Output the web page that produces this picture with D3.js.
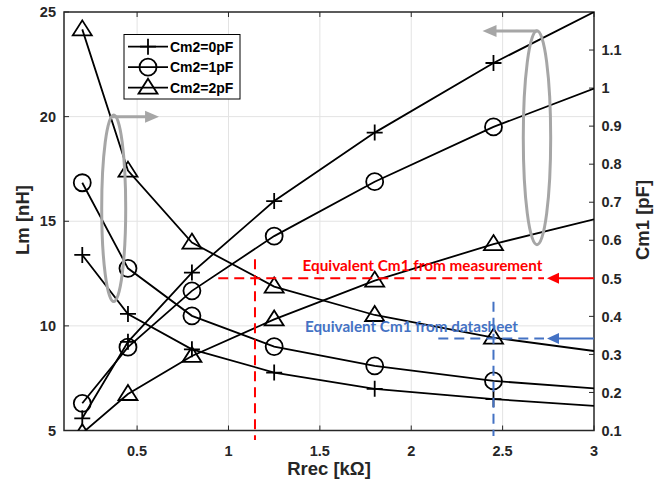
<!DOCTYPE html>
<html>
<head>
<meta charset="utf-8">
<script src="https://cdn.jsdelivr.net/npm/d3@7"></script>
<style>
html,body{margin:0;padding:0;background:#fff;}
svg{display:block;}
</style>
</head>
<body>
<svg id="chart" width="672" height="489"></svg>
<script>
// ---- data ----
const xMarkers = [0.2, 0.45, 0.8, 1.25, 1.8, 2.45];
const xLine = [0.2, 0.45, 0.8, 1.25, 1.8, 2.45, 3];
const seriesNames = ["Cm2=0pF", "Cm2=1pF", "Cm2=2pF"];
const markerTypes = ["plus", "circle", "triangle"];
// Lm [nH] (left axis)
const lmCm2_0 = [13.39, 10.57, 8.88, 7.77, 6.99, 6.50, 6.18];
const lmCm2_1 = [16.84, 12.75, 10.48, 9.01, 8.09, 7.37, 7.01];
const lmCm2_2 = [24.17, 17.42, 13.98, 11.88, 10.52, 9.44, 8.80];
// Cm1 [pF] (right axis)
const cmCm2_0 = [0.132, 0.333, 0.515, 0.703, 0.883, 1.066, 1.20];
const cmCm2_1 = [0.1715, 0.319, 0.467, 0.611, 0.754, 0.898, 0.999];
const cmCm2_2 = [0.093, 0.196, 0.296, 0.392, 0.494, 0.590, 0.655];
const xTicks = [0.5, 1, 1.5, 2, 2.5, 3];
const yLeftTicks = [5, 10, 15, 20, 25];
const yRightTicks = [0.1, 0.2, 0.3, 0.4, 0.5, 0.6, 0.7, 0.8, 0.9, 1, 1.1];
const xDomain = [0.1, 3];
const yLeftDomain = [5, 25];
const yRightDomain = [0.1, 1.2];
// annotations (data coordinates)
const measuredCm1 = 0.5, measuredRrec = 1.145;
const datasheetCm1 = 0.342, datasheetRrec = 2.45;
const labelMeasured = "Equivalent Cm1 from measurement";
const labelDatasheet = "Equivalent Cm1 from datasheet";

// ---- layout ----
const L = 64, R = 594, T = 12, B = 430.5;
const svg = d3.select("#chart");
const x = d3.scaleLinear().domain(xDomain).range([L, R]);
const yL = d3.scaleLinear().domain(yLeftDomain).range([B, T]);
const yR = d3.scaleLinear().domain(yRightDomain).range([B, T]);

svg.append("defs").append("clipPath").attr("id", "plotclip")
  .append("rect").attr("x", L).attr("y", T).attr("width", R - L).attr("height", B - T);

// grid
const grid = svg.append("g");
xTicks.filter(t => t < 3).forEach(t => {
  grid.append("line").attr("x1", x(t)).attr("x2", x(t)).attr("y1", T).attr("y2", B)
    .attr("stroke", "#e3e3e3").attr("stroke-width", 1);
});
yLeftTicks.filter(t => t > 5 && t < 25).forEach(t => {
  grid.append("line").attr("x1", L).attr("x2", R).attr("y1", yL(t)).attr("y2", yL(t))
    .attr("stroke", "#e3e3e3").attr("stroke-width", 1);
});

// axes
const tickFont = "'Liberation Sans', Arial, sans-serif";
const axColor = "#262626";
const tl = 5;
const ax = svg.append("g");
ax.append("rect").attr("x", L).attr("y", T).attr("width", R - L).attr("height", B - T)
  .attr("fill", "none").attr("stroke", axColor).attr("stroke-width", 1.5);
xTicks.forEach(t => {
  ax.append("line").attr("x1", x(t)).attr("x2", x(t)).attr("y1", B).attr("y2", B - tl).attr("stroke", axColor);
  ax.append("line").attr("x1", x(t)).attr("x2", x(t)).attr("y1", T).attr("y2", T + tl).attr("stroke", axColor);
  ax.append("text").attr("x", x(t)).attr("y", B + 25).attr("text-anchor", "middle")
    .attr("font-family", tickFont).attr("font-weight", "bold").attr("font-size", 14.5)
    .attr("fill", axColor).text(d3.format("")(t));
});
yLeftTicks.forEach(t => {
  ax.append("line").attr("x1", L).attr("x2", L + tl).attr("y1", yL(t)).attr("y2", yL(t)).attr("stroke", axColor);
  ax.append("text").attr("x", L - 8).attr("y", yL(t)).attr("dy", "0.36em").attr("text-anchor", "end")
    .attr("font-family", tickFont).attr("font-weight", "bold").attr("font-size", 14.5)
    .attr("fill", axColor).text(t);
});
yRightTicks.forEach(t => {
  ax.append("line").attr("x1", R).attr("x2", R - tl).attr("y1", yR(t)).attr("y2", yR(t)).attr("stroke", axColor);
  ax.append("text").attr("x", R + 7.5).attr("y", yR(t)).attr("dy", "0.36em").attr("text-anchor", "start")
    .attr("font-family", tickFont).attr("font-weight", "bold").attr("font-size", 14.5)
    .attr("fill", axColor).text(d3.format("")(t));
});
// axis labels
ax.append("text").attr("transform", `translate(${(L + R) / 2},475)`).attr("text-anchor", "middle")
  .attr("font-family", tickFont).attr("font-weight", "bold").attr("font-size", 18.5).attr("fill", axColor)
  .text("Rrec [kΩ]");
ax.append("text").attr("transform", `translate(29,220) rotate(-90)`).attr("text-anchor", "middle")
  .attr("font-family", tickFont).attr("font-weight", "bold").attr("font-size", 18.5).attr("fill", axColor)
  .text("Lm [nH]");
ax.append("text").attr("transform", `translate(649,220) rotate(-90)`).attr("text-anchor", "middle")
  .attr("font-family", tickFont).attr("font-weight", "bold").attr("font-size", 18.5).attr("fill", axColor)
  .text("Cm1 [pF]");

// markers
function drawMarker(g, type, cx, cy) {
  const s = { "stroke": "#000", "stroke-width": 1.8, "fill": "none" };
  let el;
  if (type === "plus") {
    el = g.append("path").attr("d", `M${cx - 8},${cy}H${cx + 8}M${cx},${cy - 8}V${cy + 8}`);
  } else if (type === "circle") {
    el = g.append("circle").attr("cx", cx).attr("cy", cy).attr("r", 8.5);
  } else {
    el = g.append("path").attr("d", `M${cx},${cy - 9}L${cx + 9.5},${cy + 6}L${cx - 9.5},${cy + 6}Z`);
  }
  Object.entries(s).forEach(([k, v]) => el.attr(k, v));
}

const plot = svg.append("g").attr("clip-path", "url(#plotclip)");
const leftSeries = [lmCm2_0, lmCm2_1, lmCm2_2];
const rightSeries = [cmCm2_0, cmCm2_1, cmCm2_2];
const lineL = d3.line().x((d, i) => x(xLine[i])).y(d => yL(d));
const lineR = d3.line().x((d, i) => x(xLine[i])).y(d => yR(d));
leftSeries.forEach((s, k) => {
  plot.append("path").attr("d", lineL(s)).attr("fill", "none").attr("stroke", "#000").attr("stroke-width", 1.8);
});
rightSeries.forEach((s, k) => {
  plot.append("path").attr("d", lineR(s)).attr("fill", "none").attr("stroke", "#000").attr("stroke-width", 1.8);
});
leftSeries.forEach((s, k) => {
  xMarkers.forEach((xv, i) => drawMarker(plot, markerTypes[k], x(xv), yL(s[i])));
});
rightSeries.forEach((s, k) => {
  xMarkers.forEach((xv, i) => drawMarker(plot, markerTypes[k], x(xv), yR(s[i])));
});

// annotations: dashed reference lines and arrows
const red = "#ff0000", blue = "#4472c4";
const ann = svg.append("g");
function refLines(color, rrec, cm1, vTopCm1, hLeftX, vBottomPx) {
  const yy = yR(cm1);
  ann.append("line").attr("x1", x(rrec)).attr("x2", x(rrec)).attr("y1", yR(vTopCm1)).attr("y2", vBottomPx)
    .attr("stroke", color).attr("stroke-width", 2).attr("stroke-dasharray", "10,6");
  ann.append("line").attr("x1", x(hLeftX)).attr("x2", R - 50).attr("y1", yy).attr("y2", yy)
    .attr("stroke", color).attr("stroke-width", 2).attr("stroke-dasharray", "10,6");
  ann.append("line").attr("x1", R - 38).attr("x2", R).attr("y1", yy).attr("y2", yy)
    .attr("stroke", color).attr("stroke-width", 2);
  ann.append("path").attr("d", `M${R - 47},${yy}L${R - 35},${yy - 5.5}L${R - 35},${yy + 5.5}Z`).attr("fill", color);
}
refLines(red, measuredRrec, measuredCm1, 0.55, 0.944, 440);
refLines(blue, datasheetRrec, datasheetCm1, 0.4385, 2.148, 436);

const annFont = "Lato, 'Open Sans', sans-serif";
ann.append("text").attr("x", 302.5).attr("y", 271).attr("fill", red)
  .attr("font-family", annFont).attr("font-weight", "bold").attr("font-size", 15.5)
  .attr("textLength", 240).attr("lengthAdjust", "spacingAndGlyphs").text(labelMeasured);
ann.append("text").attr("x", 305).attr("y", 332).attr("fill", blue)
  .attr("font-family", annFont).attr("font-weight", "bold").attr("font-size", 15.5)
  .attr("textLength", 213).attr("lengthAdjust", "spacingAndGlyphs").text(labelDatasheet);

// gray ellipses with arrows
const gray = "#a6a6a6";
const ellipses = [
  { cx: 0.372, cy: 15.62, rx: 0.0657, ry: 4.46, ax0: 0.36, ay: 20, ax1: 0.62 },
  { cx: 2.688, cy: 18.99, rx: 0.075, ry: 5.11, ax0: 2.69, ay: 24.09, ax1: 2.39 }
];
ellipses.forEach(e => {
  const ry = yL(e.cy - e.ry) - yL(e.cy);
  ann.append("ellipse").attr("cx", x(e.cx)).attr("cy", yL(e.cy))
    .attr("rx", x(e.cx + e.rx) - x(e.cx)).attr("ry", ry)
    .attr("fill", "none").attr("stroke", gray).attr("stroke-width", 3);
  const x0 = x(e.ax0), x1 = x(e.ax1), yy = yL(e.ay);
  const dir = x1 > x0 ? 1 : -1;
  ann.append("line").attr("x1", x0).attr("x2", x1 - dir * 10).attr("y1", yy).attr("y2", yy)
    .attr("stroke", gray).attr("stroke-width", 3);
  ann.append("path").attr("d", `M${x1},${yy}L${x1 - dir * 14},${yy - 6}L${x1 - dir * 14},${yy + 6}Z`).attr("fill", gray);
});

// legend
const lg = svg.append("g");
lg.append("rect").attr("x", 124).attr("y", 34.5).attr("width", 116).attr("height", 64.5)
  .attr("fill", "#fff").attr("stroke", "#000").attr("stroke-width", 1);
seriesNames.forEach((name, i) => {
  const yy = 46.7 + i * 20.5;
  lg.append("line").attr("x1", 128).attr("x2", 168).attr("y1", yy).attr("y2", yy).attr("stroke", "#000").attr("stroke-width", 1.8);
  drawMarker(lg, markerTypes[i], 148, yy);
  lg.append("text").attr("x", 170).attr("y", yy).attr("dy", "0.36em")
    .attr("font-family", tickFont).attr("font-weight", "bold").attr("font-size", 14).attr("fill", "#000").text(name);
});
</script>
</body>
</html>
